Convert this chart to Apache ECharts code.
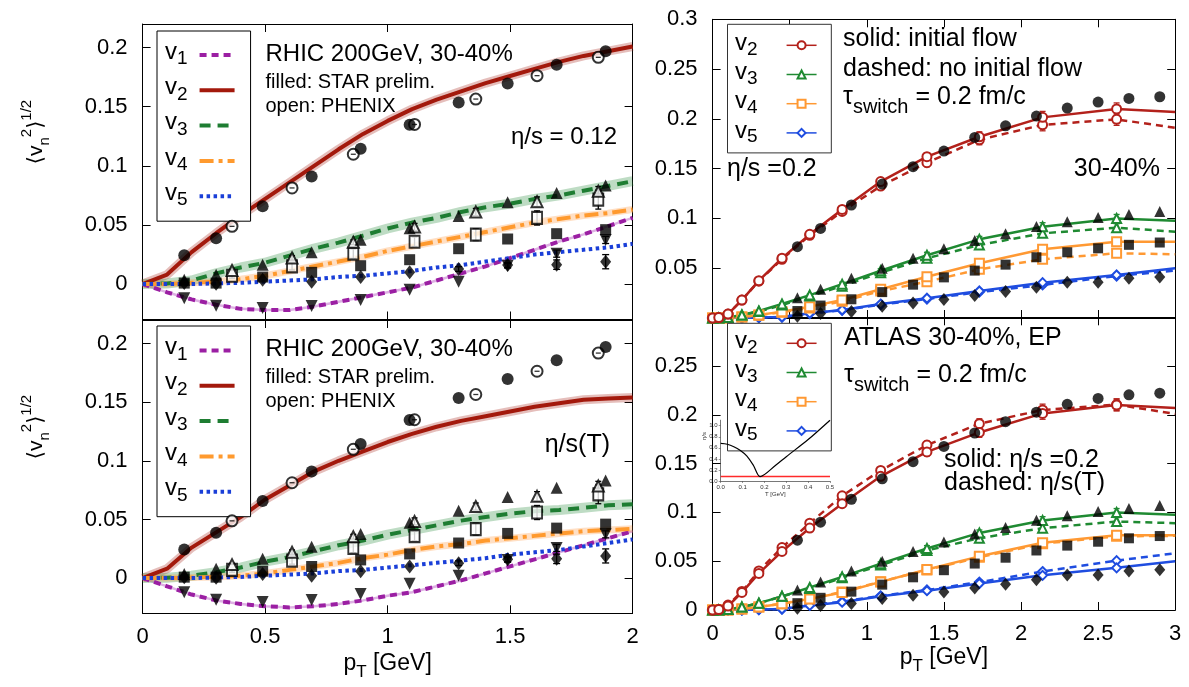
<!DOCTYPE html>
<html><head><meta charset="utf-8">
<script src="https://cdn.jsdelivr.net/npm/echarts@6/dist/echarts.min.js"></script>
<style>html,body{margin:0;padding:0;background:#fff}#c{width:1189px;height:687px}</style>
</head><body><div id="c"></div>
<script>
const FONT = "'Liberation Sans', Arial, 'DejaVu Sans', sans-serif";

// ---------- left panels: RHIC 200GeV, 30-40% ----------
const lx = [0,0.1,0.2,0.3,0.4,0.5,0.6,0.7,0.8,0.9,1.0,1.1,1.2,1.3,1.4,1.5,1.6,1.7,1.8,1.9,2.0];
// eta/s = 0.12
const tl_v1 = [0,-0.007,-0.013,-0.0175,-0.021,-0.022,-0.022,-0.019,-0.015,-0.011,-0.007,-0.003,0.003,0.009,0.015,0.022,0.029,0.036,0.042,0.049,0.056];
const tl_v2 = [0,0.008,0.027,0.043,0.058,0.072,0.086,0.100,0.114,0.127,0.138,0.148,0.156,0.163,0.170,0.176,0.182,0.188,0.193,0.197,0.201];
const tl_v3 = [0,0.0005,0.003,0.009,0.014,0.018,0.024,0.030,0.035,0.041,0.047,0.052,0.056,0.061,0.065,0.068,0.072,0.075,0.079,0.083,0.087];
const tl_v4 = [0,0,0.001,0.002,0.004,0.007,0.011,0.015,0.019,0.023,0.028,0.032,0.036,0.040,0.044,0.048,0.052,0.055,0.058,0.060,0.063];
const tl_v5 = [0,0,0,0.0005,0.001,0.002,0.003,0.004,0.006,0.007,0.009,0.011,0.014,0.016,0.019,0.022,0.025,0.027,0.029,0.031,0.034];
// eta/s(T)
const bl_v1 = [0,-0.007,-0.014,-0.019,-0.022,-0.024,-0.025,-0.024,-0.022,-0.019,-0.015,-0.012,-0.007,-0.002,0.004,0.010,0.016,0.022,0.028,0.034,0.040];
const bl_v2 = [0,0.008,0.026,0.039,0.052,0.067,0.079,0.091,0.100,0.108,0.116,0.123,0.129,0.134,0.138,0.142,0.146,0.149,0.152,0.153,0.154];
const bl_v3 = [0,0.0003,0.002,0.005,0.009,0.014,0.018,0.023,0.028,0.032,0.037,0.041,0.045,0.049,0.052,0.055,0.057,0.058,0.060,0.062,0.063];
const bl_v4 = [0,0,0.0005,0.001,0.002,0.004,0.007,0.010,0.013,0.017,0.020,0.024,0.027,0.029,0.032,0.034,0.036,0.038,0.040,0.041,0.042];
const bl_v5 = [0,0,0,0.0005,0.001,0.002,0.003,0.004,0.006,0.007,0.009,0.011,0.013,0.015,0.017,0.020,0.022,0.024,0.027,0.030,0.033];

// STAR prelim. (filled)
const starX = [0.17,0.30,0.49,0.69,0.89,1.09,1.29,1.49,1.69,1.89];
const star_v1 = [-0.012,-0.0184,-0.0203,-0.0186,-0.0135,-0.0048,0.002,0.0155,0.0257,0.0373];
const star_v1_err = [0,0,0,0,0,0,0,0.002,0.003,0.003];
const star_v2 = [0.0243,0.0387,0.0658,0.0909,0.1144,0.1347,0.1536,0.1697,0.1856,0.1969];
const star_v3 = [0.0036,0.0079,0.0164,0.0268,0.0375,0.0472,0.0575,0.0691,0.0770,0.0833];
const star_v4 = [0.0008,0.0008,0.0059,0.0099,0.0155,0.0206,0.0299,0.0381,0.0426,0.0460];
const star_v5 = [0.0008,0.0003,0.0036,0.002,0.0059,0.0099,0.0127,0.0161,0.0164,0.0189];
const star_v5_err = [0,0,0,0,0,0,0.002,0.002,0.004,0.006];
// PHENIX (open)
const phxX = [0.365,0.61,0.86,1.11,1.36,1.61,1.86];
const phx_v2 = [0.0488,0.0813,0.1098,0.1350,0.1565,0.1763,0.1918];
const phx_v3 = [0.0115,0.0220,0.0353,0.0483,0.0610,0.0697,0.0785];
const phx_v3_err = [0.001,0.002,0.002,0.003,0.003,0.004,0.004];
const phx_v4 = [0.0070,0.0149,0.0257,0.0358,0.0418,0.0559,0.0714];
const phx_v4_err = [0.002,0.003,0.004,0.004,0.005,0.006,0.008];

// ---------- right panels: ATLAS 30-40% ----------
const mx = [0,0.04,0.1,0.19,0.3,0.45,0.63,0.84,1.09,1.39,1.73,2.14,2.62,3.0];
const m_v2 = [0,0.0005,0.004,0.018,0.0375,0.060,0.084,0.109,0.137,0.162,0.182,0.2015,0.210,0.207];
const m_v3 = [0,0,0.0005,0.003,0.007,0.014,0.023,0.034,0.0475,0.063,0.079,0.0917,0.100,0.0977];
const m_v4 = [0,0,0,0.001,0.003,0.0064,0.0114,0.018,0.0288,0.0415,0.055,0.069,0.0766,0.0766];
const m_v5 = [0,0,0,0,0.0005,0.001,0.0047,0.008,0.014,0.0198,0.0271,0.0355,0.0432,0.050];
// dashed, top: no initial flow
const tr_v2d = [0,0.0005,0.004,0.018,0.037,0.059,0.083,0.107,0.1325,0.156,0.179,0.194,0.1995,0.191];
const tr_v3d = [0,0,0.0005,0.003,0.0065,0.013,0.022,0.032,0.0455,0.060,0.0733,0.085,0.0907,0.0867];
const tr_v4d = [0,0,0,0.001,0.0028,0.0058,0.010,0.0167,0.027,0.0365,0.0489,0.059,0.065,0.064];
const tr_v5d = [0,0,0,0,0.0005,0.001,0.0045,0.0078,0.0135,0.019,0.026,0.0332,0.0422,0.0476];
// dashed, bottom: eta/s(T)
const br_v2d = [0,0.0005,0.005,0.019,0.040,0.064,0.089,0.117,0.143,0.169,0.191,0.205,0.2105,0.201];
const br_v3d = [0,0,0.0005,0.003,0.007,0.014,0.022,0.033,0.046,0.061,0.0736,0.0839,0.0907,0.089];
const br_v4d = [0,0,0,0.001,0.003,0.0065,0.0115,0.0185,0.029,0.041,0.054,0.068,0.0755,0.076];
const br_v5d = [0,0,0,0,0.0005,0.001,0.005,0.0085,0.0145,0.0205,0.0286,0.0394,0.0506,0.0582];
// model statistical errors
const m_e2 = [0,0,0,0,0.001,0.001,0.002,0.002,0.003,0.004,0.005,0.006,0.006,0];
const m_e3 = [0,0,0,0,0,0.001,0.001,0.002,0.002,0.003,0.003,0.004,0.004,0];
const m_e4 = [0,0,0,0,0,0.001,0.001,0.001,0.002,0.002,0.003,0.003,0.003,0];
const m_e5 = [0,0,0,0,0,0,0.001,0.001,0.001,0.002,0.002,0.002,0.002,0];
// ATLAS data (filled)
const atlasX = [0.55,0.7,0.9,1.1,1.3,1.5,1.7,1.9,2.1,2.3,2.5,2.7,2.9];
const atl_v2 = [0.0716,0.0900,0.1135,0.1345,0.1520,0.1677,0.1814,0.1930,0.2028,0.2108,0.2169,0.2205,0.2222];
const atl_v3 = [0.0204,0.0288,0.0400,0.0500,0.0600,0.0696,0.0778,0.0845,0.0920,0.0966,0.1010,0.1040,0.1070];
const atl_v4 = [0.0070,0.0125,0.0188,0.0260,0.0335,0.0408,0.0476,0.0536,0.0610,0.0660,0.0700,0.0735,0.0758];
const atl_v5 = [0.0018,0.0045,0.0066,0.0117,0.0150,0.0185,0.0226,0.0265,0.0310,0.0358,0.0358,0.0400,0.0413];

// ---------- inset: eta/s(T) ----------
const insT = [0,0.03,0.06,0.09,0.12,0.15,0.18,0.25,0.3,0.4,0.5];
const insEta = [0.68,0.665,0.62,0.55,0.45,0.28,0.08,0.28,0.44,0.75,1.1];
const insConstT = [0,0.5];
const insConst = [0.08,0.08];

// tick labels
const leftYTicks = [0,0.05,0.1,0.15,0.2];
const rightYTicks = [0,0.05,0.1,0.15,0.2,0.25,0.3];
const trYLabels = [0.05,0.1,0.15,0.2,0.25,0.3];
const brYLabels = [0,0.05,0.1,0.15,0.2,0.25];
const insYTicks = [0,0.2,0.4,0.6,0.8,1.0];

// ---------- styling ----------
const LC = {v1:'#9b1fa3', v2:'#a3190c', v3:'#1e7d32', v4:'#ff9a2e', v5:'#1a3fd8'};
const RC = {v2:'#b3211b', v3:'#1f8a32', v4:'#ff9933', v5:'#1f4de0'};
const pair = (xs, ys) => xs.map((x, i) => [x, ys[i]]);

function xAx(g, max, labels, pos, name, gap) {
  const a = {type:'value', gridIndex:g, position:pos, min:0, max:max, interval:0.5,
    axisLine:{show:true, onZero:false, lineStyle:{color:'#000', width:1}},
    axisTick:{show:true, inside:true, length:8, lineStyle:{color:'#000', width:1}},
    axisLabel:{show:labels, fontSize:22, color:'#000', fontFamily:FONT, margin:13},
    splitLine:{show:false}};
  if (name) {
    a.name = '{p|p}{t|T}{r| [GeV]}';
    a.nameLocation = 'middle'; a.nameGap = gap;
    a.nameTextStyle = {color:'#000', fontFamily:FONT, rich:{
      p:{fontSize:23, lineHeight:18, padding:[0,0,6,0], fontFamily:FONT, color:'#000'},
      t:{fontSize:17, lineHeight:14, padding:[12,0,0,0], fontFamily:FONT, color:'#000'},
      r:{fontSize:23, lineHeight:18, padding:[0,0,6,0], fontFamily:FONT, color:'#000'}}};
  }
  return a;
}
function yAx(g, min, max, ticks, labels, pos) {
  return {type:'value', gridIndex:g, position:pos, min:min, max:max,
    axisLine:{show:true, onZero:false, lineStyle:{color:'#000', width:1}},
    axisTick:{show:true, inside:true, length:8, customValues:ticks, lineStyle:{color:'#000', width:1}},
    axisLabel:{show:labels.length > 0, customValues:labels, fontSize:22, color:'#000', fontFamily:FONT, margin:15},
    splitLine:{show:false}};
}
function errSeries(g, xs, ys, es, color, z, cap) {
  return {type:'custom', xAxisIndex:g, yAxisIndex:g, z:z, silent:true, name:'err',
    data: xs.map((x, i) => [x, ys[i], es[i]]),
    encode:{x:0, y:1},
    renderItem: function (p, api) {
      const x = api.value(0), y = api.value(1), e = api.value(2);
      if (!e) return {type:'group', children:[]};
      const a = api.coord([x, y + e]), b = api.coord([x, y - e]);
      const st = {stroke:color, lineWidth:1.3};
      const c = cap || 3.5;
      return {type:'group', children:[
        {type:'line', shape:{x1:a[0], y1:a[1], x2:b[0], y2:b[1]}, style:st},
        {type:'line', shape:{x1:a[0]-c, y1:a[1], x2:a[0]+c, y2:a[1]}, style:st},
        {type:'line', shape:{x1:b[0]-c, y1:b[1], x2:b[0]+c, y2:b[1]}, style:st}]};
    }};
}

const series = [];
function leftPanel(g, th) {
  const bands = [['v1', 2.5, 'rgba(190,100,200,0.5)'], ['v2', 9, 'rgba(170,40,30,0.3)'],
                 ['v3', 10, 'rgba(40,140,60,0.3)'], ['v4', 7, 'rgba(255,150,60,0.3)']];
  bands.forEach(([k, w, c]) => series.push({type:'line', name:'band', xAxisIndex:g, yAxisIndex:g,
    data:pair(lx, th[k]), symbol:'none', silent:true, z:1, lineStyle:{color:c, width:w}}));
  const types = {v1:[7,5], v2:'solid', v3:[11,7], v4:[14,5,4,5], v5:[3.5,3.5]};
  ['v1','v2','v3','v4','v5'].forEach(k => series.push({type:'line', name:k, xAxisIndex:g, yAxisIndex:g,
    data:pair(lx, th[k]), symbol:'none', z:2,
    lineStyle:{color:LC[k], width:4, type:types[k]}, itemStyle:{color:LC[k]}}));
  series.push(errSeries(g, phxX, phx_v4, phx_v4_err, '#000', 3, 3));
  series.push(errSeries(g, phxX, phx_v3, phx_v3_err, '#000', 3, 3));
  series.push(errSeries(g, starX, star_v5, star_v5_err, '#000', 3, 3.5));
  series.push(errSeries(g, starX, star_v1, star_v1_err, '#000', 3, 3.5));
  const sc = (name, xs, ys, sym, size, extra) => series.push(Object.assign({type:'scatter', name:name,
    xAxisIndex:g, yAxisIndex:g, data:pair(xs, ys), symbol:sym, symbolSize:size, z:4,
    itemStyle:{color:'#000'}}, extra || {}));
  sc('PHENIX v4', phxX, phx_v4, 'emptyRect', [10,12], {itemStyle:{color:'#000', borderColor:'#000', borderWidth:1.2}});
  sc('PHENIX v3', phxX, phx_v3, 'emptyTriangle', 11, {itemStyle:{color:'#000', borderColor:'#000', borderWidth:1.2}});
  sc('PHENIX v2', phxX, phx_v2, 'emptyCircle', 11, {itemStyle:{color:'#000', borderColor:'#000', borderWidth:1.2}});
  sc('PHENIX v2 bar', phxX, phx_v2, 'rect', [5,1.3], {z:5});
  sc('STAR v1', starX, star_v1, 'triangle', 12, {symbolRotate:180});
  sc('STAR v2', starX, star_v2, 'circle', 12);
  sc('STAR v3', starX, star_v3, 'triangle', 12);
  sc('STAR v4', starX, star_v4, 'rect', 11);
  sc('STAR v5', starX, star_v5, 'diamond', [11,14]);
}
leftPanel(0, {v1:tl_v1, v2:tl_v2, v3:tl_v3, v4:tl_v4, v5:tl_v5});
leftPanel(1, {v1:bl_v1, v2:bl_v2, v3:bl_v3, v4:bl_v4, v5:bl_v5});

const SYM = {v2:'emptyCircle', v3:'emptyTriangle', v4:'emptyRect', v5:'emptyDiamond'};
const SYMF = {v2:'circle', v3:'triangle', v4:'rect', v5:'diamond'};
const SZF = {v2:11, v3:11, v4:10, v5:[11,13]};
const MERR = {v2:m_e2, v3:m_e3, v4:m_e4, v5:m_e5};
const ATL = {v2:atl_v2, v3:atl_v3, v4:atl_v4, v5:atl_v5};
const mdata = ys => mx.map((x, i) => i === mx.length - 1 ? {value:[x, ys[i]], symbol:'none'} : [x, ys[i]]);
function rightPanel(g, solid, dashed) {
  ['v5','v4','v3','v2'].forEach(k => {
    series.push(errSeries(g, mx, dashed[k], MERR[k], RC[k], 3, 3));
    series.push({type:'line', name:k + 'd', xAxisIndex:g, yAxisIndex:g, data:mdata(dashed[k]),
      symbol:SYM[k], symbolSize:9, z:3,
      lineStyle:{color:RC[k], width:2.5, type:[7,5]}, itemStyle:{color:RC[k], borderWidth:1.4}});
    series.push(errSeries(g, mx, solid[k], MERR[k], RC[k], 3, 3));
    series.push({type:'line', name:k + ' ', xAxisIndex:g, yAxisIndex:g, data:mdata(solid[k]),
      symbol:SYM[k], symbolSize:9, z:3,
      lineStyle:{color:RC[k], width:2.5}, itemStyle:{color:RC[k], borderWidth:1.4}});
  });
  ['v2','v3','v4','v5'].forEach(k => series.push({type:'scatter', name:'ATLAS ' + k, xAxisIndex:g, yAxisIndex:g,
    data:pair(atlasX, ATL[k]), symbol:SYMF[k], symbolSize:SZF[k], z:4, itemStyle:{color:'#000'}}));
}
rightPanel(2, {v2:m_v2, v3:m_v3, v4:m_v4, v5:m_v5}, {v2:tr_v2d, v3:tr_v3d, v4:tr_v4d, v5:tr_v5d});
rightPanel(3, {v2:m_v2, v3:m_v3, v4:m_v4, v5:m_v5}, {v2:br_v2d, v3:br_v3d, v4:br_v4d, v5:br_v5d});

// inset
series.push({type:'line', name:'inset const', xAxisIndex:8, yAxisIndex:8, data:pair(insConstT, insConst),
  symbol:'none', z:6, lineStyle:{color:'#ff2a2a', width:1.5}});
series.push({type:'line', name:'inset eta', xAxisIndex:8, yAxisIndex:8, data:pair(insT, insEta),
  symbol:'none', smooth:0.3, z:6, lineStyle:{color:'#000', width:1.2}});

const grid = [
  {left:142.6, top:24, width:490, height:295.5},
  {left:142.6, top:320, width:490, height:293.3},
  {left:712.6, top:19.3, width:462.6, height:298.7},
  {left:712.6, top:317.3, width:462.6, height:292.7},
  {left:720.7, top:420.2, width:109.3, height:60.8}
];
const xAxis = [
  xAx(0, 2, false, 'bottom'),
  xAx(1, 2, true, 'bottom', true, 44),
  xAx(2, 3, false, 'bottom'),
  xAx(3, 3, true, 'bottom', true, 41),
  xAx(0, 2, false, 'top'), xAx(1, 2, false, 'top'), xAx(2, 3, false, 'top'), xAx(3, 3, false, 'top'),
  {type:'value', gridIndex:4, min:0, max:0.5, interval:0.1, position:'bottom',
   axisLine:{show:true, onZero:false, lineStyle:{color:'#555', width:0.8}},
   axisTick:{show:true, length:2, lineStyle:{color:'#555', width:0.6}},
   axisLabel:{fontSize:6, color:'#333', margin:3, fontFamily:FONT, formatter:v => v.toFixed(1)},
   splitLine:{show:false}, name:'T [GeV]', nameLocation:'middle', nameGap:10,
   nameTextStyle:{fontSize:6, color:'#333', fontFamily:FONT}}
];
const yAxis = [
  yAx(0, -0.03, 0.22, leftYTicks, leftYTicks, 'left'),
  yAx(1, -0.03, 0.22, leftYTicks, leftYTicks, 'left'),
  yAx(2, 0, 0.3, rightYTicks, trYLabels, 'left'),
  yAx(3, 0, 0.3, rightYTicks, brYLabels, 'left'),
  yAx(0, -0.03, 0.22, leftYTicks, [], 'right'),
  yAx(1, -0.03, 0.22, leftYTicks, [], 'right'),
  yAx(2, 0, 0.3, rightYTicks, [], 'right'),
  yAx(3, 0, 0.3, rightYTicks, [], 'right'),
  {type:'value', gridIndex:4, min:0, max:1.1, position:'left',
   axisLine:{show:true, onZero:false, lineStyle:{color:'#555', width:0.8}},
   axisTick:{show:true, length:2, customValues:insYTicks, lineStyle:{color:'#555', width:0.6}},
   axisLabel:{fontSize:6, color:'#333', margin:3, fontFamily:FONT, customValues:insYTicks, formatter:v => v.toFixed(1)},
   splitLine:{show:false}}
];

function leftLegend(top, padTop) {
  return {left:157, top:top, orient:'vertical', align:'right', selectedMode:false,
    data:['v1','v2','v3','v4','v5'], itemWidth:35, itemHeight:14, itemGap:5.3,
    padding:[padTop,14,10,8], borderColor:'#000', borderWidth:1, backgroundColor:'#fff',
    lineStyle:{width:4},
    itemStyle:{color:'transparent', borderColor:'transparent', borderWidth:0, opacity:0},
    formatter: n => '{v|v}{s|' + n.slice(1) + '}',
    textStyle:{rich:{
      v:{fontSize:24, lineHeight:18, padding:[0,0,6,0], fontFamily:FONT, color:'#000'},
      s:{fontSize:19, lineHeight:16, padding:[8,7,0,0], fontFamily:FONT, color:'#000'}}}};
}
function rightLegend(top, padTop) {
  return {left:727.5, top:top, orient:'vertical', align:'right', selectedMode:false,
    data:['v2 ','v3 ','v4 ','v5 '], itemWidth:30, itemHeight:10, itemGap:1.2,
    padding:[padTop,14,6,7.5], borderColor:'#333', borderWidth:1, backgroundColor:'#fff',
    lineStyle:{width:1.5},
    formatter: n => '{v|v}{s|' + n.trim().slice(1) + '}',
    textStyle:{rich:{
      v:{fontSize:24, lineHeight:16, padding:[0,0,4,0], fontFamily:FONT, color:'#000'},
      s:{fontSize:19, lineHeight:12, padding:[8,24,0,0], fontFamily:FONT, color:'#000'}}}};
}

function T(x, y, text, size, align) {
  return {type:'text', x:x, y:y, z:20, style:{text:text, fontSize:size, fontFamily:FONT, fill:'#000',
    align:align || 'left', verticalAlign:'middle'}};
}
function TAU(x, y) {
  return {type:'text', x:x, y:y, z:20, style:{text:'{t|\u03c4}{s|switch}{t| = 0.2 fm/c}', fill:'#000',
    align:'left', verticalAlign:'middle', rich:{
      t:{fontSize:25, lineHeight:20, padding:[0,0,8,0], fontFamily:FONT, fill:'#000'},
      s:{fontSize:20, lineHeight:16, padding:[12,0,0,0], fontFamily:FONT, fill:'#000'}}}};
}
function YT(x, y) {
  return {type:'text', x:x, y:y, rotation:Math.PI/2, z:20, style:{
    text:'{a|\u27e8v}{n|n}{u|2}{a|\u27e9}{h|1/2}', fill:'#000', align:'center', verticalAlign:'middle', rich:{
      a:{fontSize:21, lineHeight:20, padding:[6,0,6,0], fontFamily:FONT, fill:'#000'},
      n:{fontSize:15, lineHeight:14, padding:[18,0,0,0], fontFamily:FONT, fill:'#000'},
      u:{fontSize:15, lineHeight:14, padding:[0,0,18,0], fontFamily:FONT, fill:'#000'},
      h:{fontSize:15, lineHeight:14, padding:[0,0,18,0], fontFamily:FONT, fill:'#000'}}}};
}
const graphic = [
  YT(36, 132), YT(36, 427),
  T(265.5, 54, 'RHIC 200GeV, 30-40%', 24), T(265.5, 82, 'filled: STAR prelim.', 20), T(265.5, 106, 'open: PHENIX', 20),
  T(617, 137, '\u03b7/s = 0.12', 24, 'right'),
  T(265.5, 349, 'RHIC 200GeV, 30-40%', 24), T(265.5, 377, 'filled: STAR prelim.', 20), T(265.5, 401, 'open: PHENIX', 20),
  T(610, 445, '\u03b7/s(T)', 25, 'right'),
  T(843, 39, 'solid: initial flow', 25), T(843, 69, 'dashed: no initial flow', 25), TAU(843, 101),
  T(727, 169, '\u03b7/s =0.2', 25), T(1160, 169, '30-40%', 25, 'right'),
  T(844, 338, 'ATLAS 30-40%, EP', 25), TAU(844, 379),
  T(944, 460, 'solid: \u03b7/s =0.2', 25), T(944, 483, 'dashed: \u03b7/s(T)', 25),
  {type:'text', x:704, y:436, rotation:Math.PI/2, z:20, style:{text:'\u03b7/s', fontSize:6, fontFamily:FONT, fill:'#333', align:'center', verticalAlign:'middle'}}
];

const chart = echarts.init(document.getElementById('c'), null, {renderer:'canvas'});
chart.setOption({
  animation:false, backgroundColor:'#fff',
  textStyle:{fontFamily:FONT},
  grid:grid, xAxis:xAxis, yAxis:yAxis,
  legend:[leftLegend(31, 9), leftLegend(326, 9.5), rightLegend(24.3, 7), rightLegend(323.3, 6)],
  graphic:graphic,
  series:series
});
</script></body></html>
